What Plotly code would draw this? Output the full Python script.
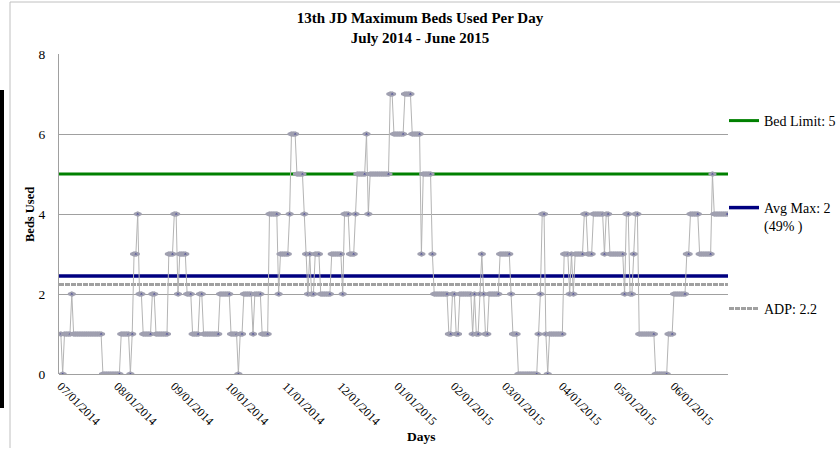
import pandas as pd
import plotly.graph_objects as go

# Daily maximum beds used, July 2014 - June 2015
jul_2014 = [1,0,1,1,1,1,2, 1,1,1,1,1,1,1,1,1,1,1,1,1,1,1,1, 0,0,0,0,0,0,0,0]
aug_2014 = [0,0, 1,1,1,1,1, 0, 1, 3,3, 4, 2,2, 1,1,1,1,1, 2,2, 1,1,1,1,1,1,1, 3,3,3]
sep_2014 = [4,4, 2, 3,3,3,3, 2,2,2, 1,1,1,1, 2,2, 1,1,1,1,1,1,1,1,1, 2,2,2,2,2]
oct_2014 = [2, 1,1,1,1, 0, 1,1, 2,2,2,2,2, 1, 2,2,2,2, 1,1,1,1, 4,4,4,4,4, 2, 3,3,3]
nov_2014 = [3,3, 4, 6,6,6, 5,5,5,5, 4, 3, 2, 3, 2,2, 3,3,3, 2,2,2,2,2,2, 3,3,3,3,3]
dec_2014 = [3, 2, 4,4,4, 3,3,3, 4, 5,5,5,5,5, 6, 4, 5,5,5,5,5,5,5,5,5,5,5, 7,7, 6,6]
jan_2015 = [6,6,6,6, 7,7,7,7, 6,6,6,6,6, 3, 5,5,5,5,5, 3, 2,2,2,2,2,2,2,2, 1,1, 2]
feb_2015 = [2, 1,1, 2,2,2,2,2,2,2, 1, 2, 1,1, 2, 3, 2, 1,1, 2,2,2,2,2,2, 3,3,3]
mar_2015 = [3,3,3, 2, 1,1,1, 0,0,0,0,0,0,0,0,0,0,0, 1, 2, 4,4, 1, 0, 1,1,1,1,1,1,1]
apr_2015 = [1, 3,3,3, 2, 3, 2, 3,3,3,3,3, 4,4, 3,3,3, 4,4,4,4,4,4, 3, 4,4, 3,3,3,3]
may_2015 = [3,3,3,3, 2, 4,4, 2,2, 3, 4,4, 1,1,1,1,1,1,1,1,1, 0,0,0,0,0,0,0, 1,1,1]
jun_2015 = [2,2,2,2,2,2,2, 3,3, 4,4,4,4,4, 3,3,3,3,3,3,3, 5, 4,4,4,4,4,4,4,4]

beds_used = (jul_2014 + aug_2014 + sep_2014 + oct_2014 + nov_2014 + dec_2014 +
             jan_2015 + feb_2015 + mar_2015 + apr_2015 + may_2015 + jun_2015)
days = pd.date_range("2014-07-01", "2015-06-30", freq="D")

bed_limit = 5
avg_max = 2.45
adp = 2.24

tick_dates = ["2014-07-01", "2014-08-01", "2014-09-01", "2014-10-01", "2014-11-01",
              "2014-12-01", "2015-01-01", "2015-02-01", "2015-03-01", "2015-04-01",
              "2015-05-01", "2015-06-01"]
y_ticks = [0, 2, 4, 6, 8]

x_start = "2014-06-30"
x_end = "2015-06-30 12:00"

SERIF = "Liberation Serif, Times New Roman, serif"

fig = go.Figure()

# reference lines
fig.add_trace(go.Scatter(x=[x_start, x_end], y=[bed_limit, bed_limit], mode="lines",
                         line=dict(color="#008000", width=3), name="Bed Limit: 5",
                         legend="legend", hoverinfo="skip"))
fig.add_trace(go.Scatter(x=[x_start, x_end], y=[adp, adp], mode="lines",
                         line=dict(color="#a0a0a0", width=3, dash="5px,1px"), name="ADP: 2.2",
                         legend="legend3", hoverinfo="skip"))
fig.add_trace(go.Scatter(x=[x_start, x_end], y=[avg_max, avg_max], mode="lines",
                         line=dict(color="#000080", width=3.5), name="Avg Max: 2<br>(49% )",
                         legend="legend2", hoverinfo="skip"))

# daily series: navy centre with grey outline; next point's outline covers the previous centre
fig.add_trace(go.Scatter(x=days, y=beds_used, mode="lines+markers",
                         line=dict(color="#b4b4b4", width=1),
                         marker=dict(symbol="diamond-wide", size=5, color="#000080",
                                     line=dict(width=2, color="#a0a0b0")),
                         showlegend=False))

legend_common = dict(xanchor="left", yanchor="middle", bgcolor="rgba(0,0,0,0)",
                     font=dict(family=SERIF, size=14, color="#000"),
                     itemwidth=30, valign="top", borderwidth=0)
legend_x = (724 - 59) / 669

fig.update_layout(
    width=840, height=458,
    margin=dict(l=59, r=112, t=54, b=84, autoexpand=False),
    paper_bgcolor="white", plot_bgcolor="white",
    title=dict(text="<b>13th JD Maximum Beds Used Per Day<br>July 2014 - June 2015</b>",
               x=0.5, xref="container", xanchor="center",
               y=1 - 23 / 458, yref="container", yanchor="middle",
               font=dict(family=SERIF, size=15, color="#000")),
    xaxis=dict(range=[x_start, x_end], tickvals=tick_dates, tickformat="%m/%d/%Y",
               tickangle=45, showgrid=False, zeroline=False, showline=False,
               ticks="", ticklabelstandoff=2,
               tickfont=dict(family=SERIF, size=12, color="#000")),
    yaxis=dict(range=[0, 8], tickvals=y_ticks, showgrid=True, gridcolor="#a0a0a0",
               gridwidth=1, zeroline=True, zerolinecolor="#a0a0a0", zerolinewidth=1,
               showline=True, linecolor="#a0a0a0", linewidth=1, ticks="",
               ticklabelstandoff=10,
               tickfont=dict(family=SERIF, size=13.5, color="#000")),
    legend=dict(x=legend_x, y=(374 - 121) / 320, **legend_common),
    legend2=dict(x=legend_x, y=(374 - 217) / 320, **legend_common),
    legend3=dict(x=legend_x, y=(374 - 309) / 320, **legend_common),
    showlegend=True,
    annotations=[
        dict(text="<b>Beds Used</b>", textangle=-90, xref="paper", yref="paper",
             x=(30 - 59) / 669, y=(374 - 215) / 320, xanchor="center", yanchor="middle",
             showarrow=False, font=dict(family=SERIF, size=12.5, color="#000")),
        dict(text="<b>Days</b>", xref="paper", yref="paper",
             x=(421 - 59) / 669, y=(374 - 436) / 320, xanchor="center", yanchor="middle",
             showarrow=False, font=dict(family=SERIF, size=13.5, color="#000")),
    ],
    shapes=[
        dict(type="line", xref="paper", yref="paper",
             x0=(10 - 59) / 669, x1=(10 - 59) / 669, y0=(374 - 448) / 320, y1=(374 - 2) / 320,
             line=dict(color="#c0c0c0", width=1)),
        dict(type="line", xref="paper", yref="paper",
             x0=(10 - 59) / 669, x1=(842 - 59) / 669, y0=(374 - 2) / 320, y1=(374 - 2) / 320,
             line=dict(color="#c0c0c0", width=1)),
        dict(type="rect", xref="paper", yref="paper",
             x0=(0 - 59) / 669, x1=(4 - 59) / 669, y0=(374 - 408) / 320, y1=(374 - 90) / 320,
             fillcolor="#000", line=dict(width=0)),
    ],
)

fig.write_html("out.html", config={"displayModeBar": False},
               post_script="document.body.style.margin='0';document.body.style.overflow='hidden';")
